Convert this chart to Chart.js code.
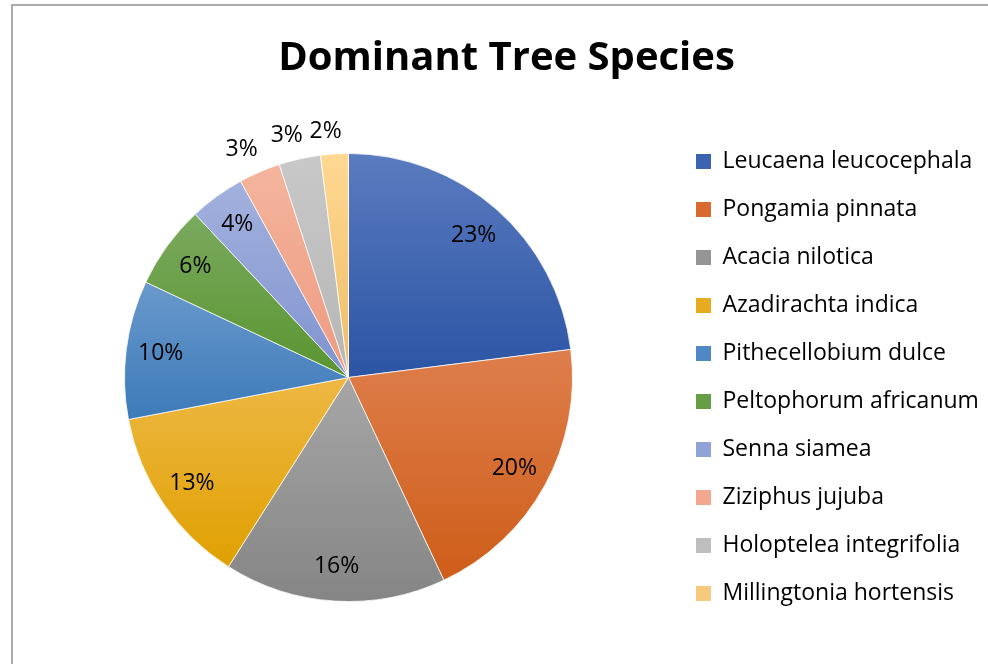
<!DOCTYPE html>
<html>
<head>
<meta charset="utf-8">
<script src="https://cdn.jsdelivr.net/npm/chart.js@4.4.1/dist/chart.umd.min.js"></script>
<style>
  html, body { margin: 0; padding: 0; background: #fff; overflow: hidden; }
  #frame { position: absolute; left: 11px; top: 4px; width: 1000px; height: 700px;
           border-left: 2px solid #ababab; border-top: 2px solid #ababab; }
  #wrap { position: absolute; left: 12px; top: 5px; width: 995px; height: 659px; }
</style>
</head>
<body>
<div id="frame"></div>
<div id="wrap"><canvas id="pie"></canvas></div>
<script>
// Dominant Tree Species - pie with Excel-like gradient slices

const species = [
  'Leucaena leucocephala', 'Pongamia pinnata', 'Acacia nilotica', 'Azadirachta indica',
  'Pithecellobium dulce', 'Peltophorum africanum', 'Senna siamea', 'Ziziphus jujuba',
  'Holoptelea integrifolia', 'Millingtonia hortensis'
];
const shares = [23, 20, 16, 13, 10, 6, 4, 3, 3, 2];

// gradient ends (top -> bottom of each slice)
const topColors = ['#5A7BBF', '#DE7E4C', '#A6A6A6', '#EDB844', '#6A99CC', '#7AAA5E', '#A3B1DD', '#F4B49D', '#C8C8C8', '#FFD892'];
const bottomColors = ['#2B54A4', '#CE5D18', '#858585', '#E0A000', '#3C7AB9', '#5A9430', '#7F93D0', '#EE9B80', '#B6B6B6', '#EDBD66'];
const legendColors = ['#3C63B0', '#D86A30', '#959595', '#E6AC20', '#4F88C2', '#679E45', '#90A2D6', '#F1A88E', '#BEBEBE', '#F6CA7C'];

const RADIUS = 224;
const FONT = '"Open Sans", Lato, sans-serif';

function sliceGradient(c) {
  const chart = c.chart;
  const i = c.dataIndex;
  const area = chart.chartArea;
  if (!area || i === undefined) return topColors[i || 0];
  const total = shares.reduce((a, b) => a + b, 0);
  let before = 0;
  for (let k = 0; k < i; k++) before += shares[k];
  const a0 = -Math.PI / 2 + 2 * Math.PI * before / total;
  const a1 = a0 + 2 * Math.PI * shares[i] / total;
  const cy = (area.top + area.bottom) / 2;
  const ys = [cy, cy + Math.sin(a0) * RADIUS, cy + Math.sin(a1) * RADIUS];
  // top / bottom of circle inside the slice?
  for (let k = -1; k <= 2; k++) {
    const t = -Math.PI / 2 + 2 * Math.PI * k;
    const b = Math.PI / 2 + 2 * Math.PI * k;
    if (t >= a0 && t <= a1) ys.push(cy - RADIUS);
    if (b >= a0 && b <= a1) ys.push(cy + RADIUS);
  }
  const y0 = Math.min(...ys), y1 = Math.max(...ys);
  const g = chart.ctx.createLinearGradient(0, y0, 0, y1);
  g.addColorStop(0, topColors[i]);
  g.addColorStop(1, bottomColors[i]);
  return g;
}

const sliceLabels = {
  id: 'sliceLabels',
  afterDatasetsDraw(chart) {
    const ctx = chart.ctx;
    const meta = chart.getDatasetMeta(0);
    const total = shares.reduce((a, b) => a + b, 0);
    ctx.save();
    ctx.font = '23px ' + FONT;
    ctx.fillStyle = '#000';
    ctx.textAlign = 'center';
    ctx.textBaseline = 'middle';
    meta.data.forEach((arc, i) => {
      const p = arc.getProps(['x', 'y', 'startAngle', 'endAngle', 'outerRadius'], true);
      let mid = (p.startAngle + p.endAngle) / 2;
      const text = Math.round(shares[i] / total * 100) + '%';
      let dist;
      if (shares[i] <= 3) {
        // small slices: label just outside the rim
        mid -= 0.03;
        const w = ctx.measureText(text).width;
        dist = p.outerRadius + 11 + Math.abs(Math.cos(mid)) * w / 2 + Math.abs(Math.sin(mid)) * 11;
      } else {
        dist = p.outerRadius * 0.845;
      }
      ctx.fillText(text, p.x + Math.cos(mid) * dist, p.y + Math.sin(mid) * dist);
    });
    ctx.restore();
  }
};

new Chart(document.getElementById('pie'), {
  type: 'pie',
  data: {
    labels: species,
    datasets: [{
      data: shares,
      backgroundColor: sliceGradient,
      borderColor: 'rgba(255,255,255,0.75)',
      borderWidth: 1,
      radius: RADIUS
    }]
  },
  options: {
    responsive: true,
    maintainAspectRatio: false,
    animation: false,
    layout: { padding: { left: 14, right: 20, top: 0, bottom: 0 } },
    plugins: {
      title: {
        display: true,
        text: 'Dominant Tree Species',
        color: '#000',
        font: { family: FONT, size: 40, weight: 'bold' },
        padding: { top: 30, bottom: 8 }
      },
      legend: {
        position: 'right',
        fullSize: false,
        maxWidth: 316,
        labels: {
          boxWidth: 15,
          boxHeight: 15,
          padding: 25,
          color: '#0d0d0d',
          font: { family: FONT, size: 23 },
          generateLabels: () => species.map((name, i) => ({
            text: name, fillStyle: legendColors[i], strokeStyle: legendColors[i],
            lineWidth: 0, hidden: false, index: i
          }))
        }
      },
      tooltip: { enabled: false }
    }
  },
  plugins: [sliceLabels]
});
</script>
</body>
</html>
